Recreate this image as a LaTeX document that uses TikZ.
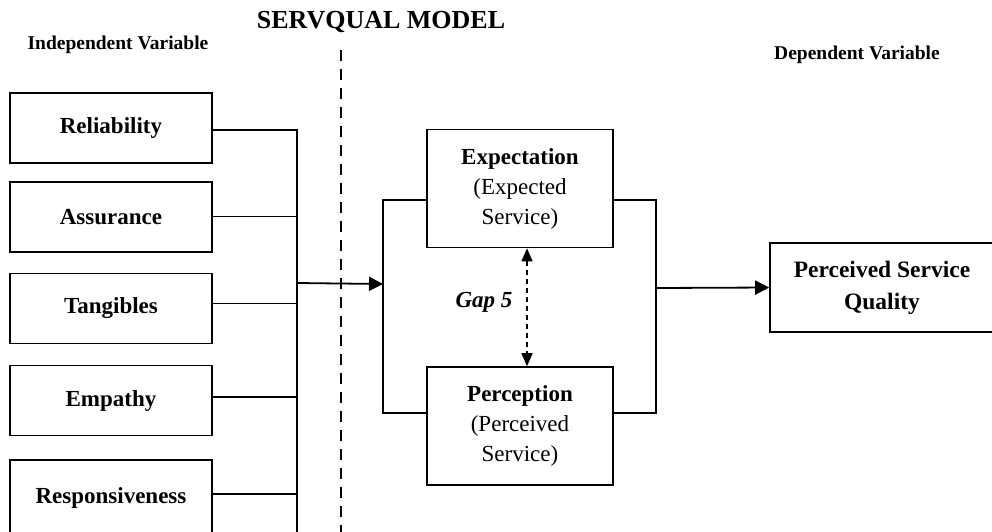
\documentclass[tikz,border=0pt]{standalone}
\usepackage{fontspec}
\setmainfont{Liberation Serif}
\usetikzlibrary{arrows.meta,calc}
\begin{document}
\begin{tikzpicture}[x=1pt,y=-1pt,
  box/.style={draw, line width=1.6pt, minimum width=202pt, minimum height=70pt,
    inner sep=0pt, font=\fontsize{23}{28}\selectfont\bfseries},
  mbox/.style={draw, line width=1.6pt, minimum width=186pt, minimum height=118pt,
    inner sep=0pt, align=center, font=\fontsize{23}{30}\selectfont},
  conn/.style={line width=1.3pt},
  bigarrow/.style={line width=1.8pt, -{Triangle[length=14pt,width=14pt]}},
  gaparrow/.style={line width=1.6pt, dash pattern=on 5pt off 4pt,
    {Triangle[length=13pt,width=11pt]}-{Triangle[length=13pt,width=11pt]}},
  divider/.style={line width=2pt, dash pattern=on 11pt off 8pt},
  title/.style={font=\fontsize{26}{30}\selectfont\bfseries},
  head/.style={font=\fontsize{19.5}{24}\selectfont\bfseries}
]
\useasboundingbox (0,0) rectangle (992,531);
\clip (0,0) rectangle (992,531);

% headings
\node[title] (ttl) at (381,22) {SERVQUAL MODEL};
\node[head] (ind) at (118,45) {Independent Variable};
\node[head] (dep) at (857,55) {Dependent Variable};

% divider
\coordinate (dtop) at (341,50);
\coordinate (dbot) at (341,540);
\draw[divider] (dtop) -- (dbot);

% independent variables
\node[box] (rel) at (111,128) {Reliability};
\node[box] (asu) at (111,217) {Assurance};
\node[box] (tan) at (111,308.5) {Tangibles};
\node[box] (emp) at (111,400.5) {Empathy};
\node[box, minimum height=76pt] (res) at (111,498) {Responsiveness};

% bus
\coordinate (bus) at (297,0);
\coordinate (busend) at (297,545);
\coordinate (relo) at ($(rel.east)+(0,2)$);
\coordinate (asuo) at ($(asu.east)+(0,-1)$);
\coordinate (tano) at ($(tan.east)+(0,-5)$);
\coordinate (empo) at ($(emp.east)+(0,-3.5)$);
\coordinate (reso) at ($(res.east)+(0,-4)$);
\draw[conn] (relo) -- (relo -| bus) -- (busend);
\draw[line width=0.8pt] (asuo) -- (asuo -| bus);
\draw[conn] (tano) -- (tano -| bus);
\draw[conn] (empo) -- (empo -| bus);
\draw[line width=1.8pt] (reso) -- (reso -| bus);

% middle boxes
\node[mbox] (exp) at (520,188.5) {\textbf{Expectation}\\(Expected\\Service)};
\node[mbox] (per) at (520,426) {\textbf{Perception}\\(Perceived\\Service)};

% left bracket
\coordinate (lt) at (383,200);
\coordinate (lb) at (383,413);
\coordinate (la) at (383,284);
\coordinate (bj) at (297,283);
\draw[conn] (exp.west |- lt) -- (lt) -- (lb) -- (per.west |- lb);
\draw[bigarrow] (bj) -- (la);

% right bracket
\coordinate (rt) at (656,200);
\coordinate (rb) at (656,413);
\coordinate (ra) at (656,288);
\draw[conn] (exp.east |- rt) -- (rt) -- (rb) -- (per.east |- rb);

% dependent variable
\node[draw, line width=1.6pt, minimum width=224pt, minimum height=89pt, inner sep=0pt,
  align=center, font=\fontsize{23.5}{32}\selectfont\bfseries] (psq) at (882,287.5)
  {Perceived Service\\Quality};
\draw[bigarrow] (ra) -- (psq.west);

% gap 5
\coordinate (gx) at (527,0);
\draw[gaparrow] (exp.south -| gx) -- (per.north -| gx);
\node[font=\fontsize{23}{28}\selectfont\bfseries\itshape] (gap) at (484,302) {Gap 5};
\end{tikzpicture}
\end{document}
